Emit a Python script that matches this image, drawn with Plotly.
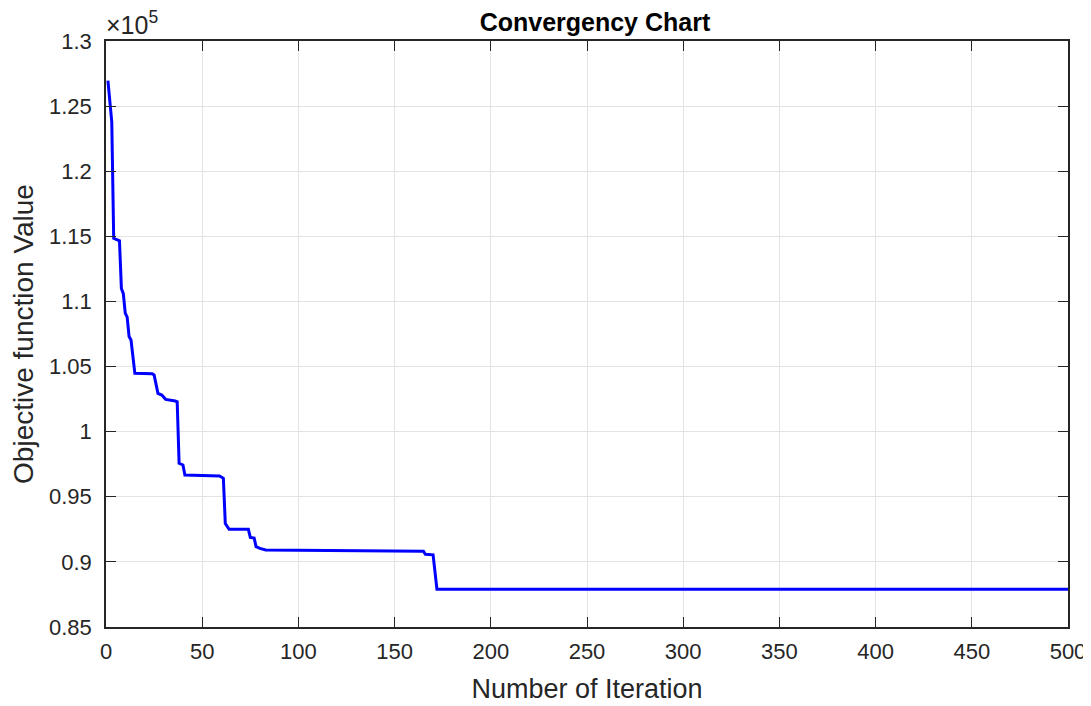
import plotly.graph_objects as go

# Breakpoints (iteration, objective value)
iterations = [1, 3, 4, 7, 8, 9, 10, 11, 12, 13, 15, 24, 25, 27, 29, 31, 36, 37,
              38, 40, 41, 59, 61, 62, 64, 74, 75, 77, 78, 80, 83, 115, 116, 165,
              166, 170, 172, 500]
objective = [126950, 123800, 114850, 114660, 111000, 110600, 109100, 108800,
             107300, 107040, 104480, 104450, 104350, 102940, 102810, 102480,
             102350, 102300, 97570, 97440, 96670, 96590, 96420, 92950, 92500,
             92500, 91880, 91830, 91170, 91040, 90920, 90900, 90860, 90820,
             90580, 90540, 87900, 87900]

y_tickvals = [85000, 90000, 95000, 100000, 105000, 110000, 115000, 120000, 125000, 130000]
y_ticktext = ["0.85", "0.9", "0.95", "1", "1.05", "1.1", "1.15", "1.2", "1.25", "1.3"]
x_tickvals = [0, 50, 100, 150, 200, 250, 300, 350, 400, 450, 500]

FONT = "Liberation Sans, Arial, Helvetica, sans-serif"
AX = "#262626"
GRID = "#e3e3e3"

fig = go.Figure()
fig.add_trace(go.Scatter(x=iterations, y=objective, mode="lines",
                         line=dict(color="#0000ff", width=3), showlegend=False))

axis_common = dict(showline=True, linecolor=AX, linewidth=1.6, mirror="allticks",
                   ticks="inside", ticklen=10, tickwidth=1.4, tickcolor=AX,
                   showgrid=True, gridcolor=GRID, gridwidth=1, zeroline=False,
                   automargin=False,
                   tickfont=dict(family=FONT, size=22, color=AX))

fig.update_xaxes(range=[0, 500], tickvals=x_tickvals, ticklabelstandoff=4,
                 title=dict(text="Number of Iteration", font=dict(family=FONT, size=27, color=AX), standoff=16),
                 **axis_common)
fig.update_yaxes(range=[85000, 130000], tickvals=y_tickvals, ticktext=y_ticktext, ticklabelstandoff=8,
                 title=dict(text="Objective function Value", font=dict(family=FONT, size=28, color=AX), standoff=8),
                 **axis_common)

# page body adds an 8px offset; margins compensate so the plot area lands at 106..1068 x 41..627
fig.update_layout(
    width=1091, height=706,
    margin=dict(l=98, r=31, t=33, b=87),
    paper_bgcolor="white", plot_bgcolor="white",
    title=dict(text="<b>Convergency Chart</b>", x=0.538, xanchor="center", y=0.98, yanchor="middle",
               font=dict(family=FONT, size=25, color="black")),
    annotations=[dict(text="×10<sup>5</sup>", xref="paper", yref="paper", x=0, y=1,
                      xanchor="left", yanchor="bottom", showarrow=False, yshift=0, xshift=-2,
                      font=dict(family=FONT, size=25, color=AX))],
)

fig.write_html("out.html")
